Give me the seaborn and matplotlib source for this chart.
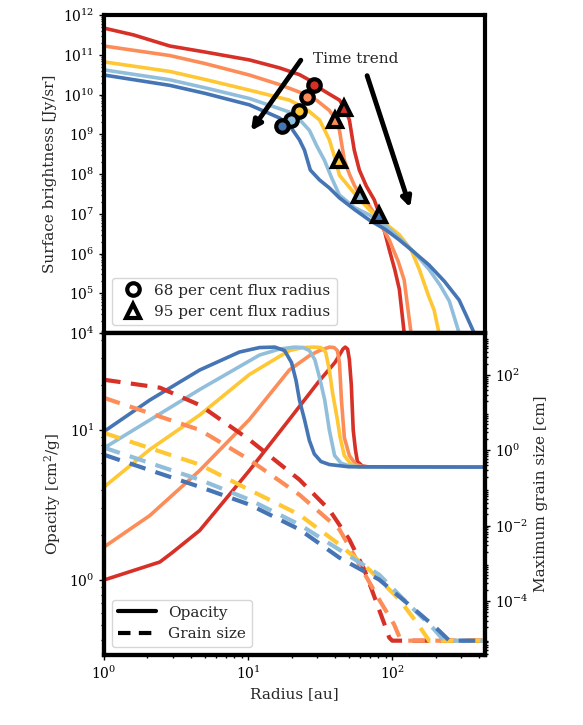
import numpy as np
import matplotlib
matplotlib.use("Agg")
import matplotlib.pyplot as plt
import seaborn as sns
from matplotlib.lines import Line2D

sns.set_style("ticks")
plt.rcParams["font.family"] = ["DejaVu Serif"]
plt.rcParams["mathtext.fontset"] = "dejavuserif"

COLORS = ["#d73027", "#fc8d59", "#fec733", "#91bfdb", "#4575b4"]

# ---- top panel: surface brightness (log10 Jy/sr) vs radius [au]
sb_r = [
    [1, 1.6, 2.86, 5.0, 10.2, 16.5, 22.7, 27.0, 31.3, 37.0, 43.0, 47.0, 50.4, 54.5, 59.1, 66.0, 75.0, 85.0, 95.3, 104, 112, 121],
    [1, 2.86, 5.0, 10.2, 16.5, 22.7, 30.0, 36.6, 40.0, 43.0, 46.5, 50.4, 54.5, 60.0, 69.4, 80.0, 95.3, 110, 121, 135],
    [1, 2.86, 5.0, 10.2, 19.3, 25.0, 31.3, 34.0, 36.6, 40.0, 43.0, 55.0, 69.4, 90.0, 112, 135, 154, 180, 195, 211],
    [1, 2.86, 5.0, 10.2, 19.3, 23.0, 26.6, 30.0, 33.8, 38.0, 43.0, 55.0, 69.4, 90.0, 112, 140, 180, 215, 249, 291],
    [1, 2.86, 5.0, 10.2, 16.5, 19.3, 22.7, 24.6, 27.0, 31.3, 36.6, 43.0, 55.0, 69.4, 90.0, 112, 140, 180, 230, 291, 330, 370],
]
sb_log = [
    [11.67, 11.5, 11.22, 11.07, 10.87, 10.67, 10.5, 10.35, 10.16, 10.0, 9.86, 9.65, 9.36, 8.6, 8.1, 7.7, 7.35, 6.8, 6.1, 5.6, 5.1, 4.0],
    [11.22, 10.98, 10.78, 10.49, 10.25, 10.06, 9.85, 9.6, 9.4, 9.1, 8.35, 8.0, 7.72, 7.45, 7.2, 6.85, 6.34, 5.8, 5.33, 4.0],
    [10.82, 10.58, 10.38, 10.11, 9.86, 9.65, 9.36, 9.1, 8.86, 8.4, 7.97, 7.5, 7.1, 6.75, 6.47, 6.1, 5.6, 4.9, 4.58, 4.0],
    [10.62, 10.37, 10.17, 9.9, 9.56, 9.35, 9.1, 8.7, 8.35, 7.9, 7.47, 7.15, 6.97, 6.7, 6.39, 6.05, 5.6, 5.2, 4.8, 4.0],
    [10.49, 10.23, 10.03, 9.74, 9.41, 9.23, 8.86, 8.6, 8.1, 7.85, 7.65, 7.4, 7.1, 6.84, 6.6, 6.34, 6.05, 5.71, 5.3, 4.83, 4.4, 4.0],
]
r68 = [28.8, 25.8, 22.7, 19.7, 17.1]
sb68_log = [10.24, 9.94, 9.58, 9.36, 9.21]
r95 = [46.5, 40.3, 43.0, 60.0, 81.3]
sb95_log = [9.66, 9.36, 8.35, 7.47, 6.97]

# ---- bottom panel: opacity [cm^2/g] and max grain size [cm]
op_r = [
    [1, 2.44, 2.95, 4.61, 10.2, 19.3, 31.3, 40.0, 43.0, 45.5, 47.2, 49.0, 50.4, 52.0, 53.6, 55.5, 57.3, 62.0, 69.4, 440],
    [1, 2.08, 4.61, 10.2, 19.3, 27.0, 31.3, 36.6, 39.5, 41.6, 43.0, 44.4, 46.5, 50.4, 56.0, 64.1, 440],
    [1, 2.08, 4.61, 10.2, 19.3, 24.0, 28.8, 32.0, 34.5, 36.6, 38.5, 41.6, 43.5, 46.5, 52.0, 59.1, 440],
    [1, 4.61, 12.0, 16.5, 21.0, 24.0, 26.6, 29.0, 31.3, 34.0, 36.6, 39.8, 44.0, 50.4, 69.4, 440],
    [1, 2.08, 4.61, 8.7, 12.0, 15.3, 17.9, 20.0, 21.5, 22.7, 24.6, 26.6, 28.8, 32.0, 36.6, 50.0, 440],
]
op_log = [
    [0.0, 0.12, 0.18, 0.33, 0.73, 1.07, 1.33, 1.45, 1.5, 1.54, 1.553, 1.54, 1.47, 1.3, 1.0, 0.87, 0.79, 0.76, 0.753, 0.753],
    [0.22, 0.43, 0.73, 1.07, 1.4, 1.5, 1.53, 1.553, 1.55, 1.53, 1.45, 1.2, 0.95, 0.83, 0.77, 0.753, 0.753],
    [0.62, 0.87, 1.1, 1.37, 1.53, 1.55, 1.553, 1.55, 1.52, 1.4, 1.25, 1.07, 0.95, 0.83, 0.77, 0.753, 0.753],
    [0.88, 1.27, 1.5, 1.54, 1.553, 1.55, 1.53, 1.47, 1.35, 1.2, 1.0, 0.83, 0.78, 0.76, 0.753, 0.753],
    [0.99, 1.2, 1.4, 1.52, 1.55, 1.553, 1.53, 1.45, 1.33, 1.2, 1.07, 0.93, 0.84, 0.79, 0.77, 0.755, 0.753],
]
gs_r = [
    [1, 2.44, 4.61, 10.2, 22.7, 36.6, 50.4, 64.1, 81.1, 90.0, 95.3, 100, 112, 440],
    [1, 4.61, 10.2, 22.7, 43.0, 59.1, 81.1, 103, 112, 121, 440],
    [1, 4.61, 10.2, 22.7, 43.0, 69.4, 112, 150, 180, 440],
    [1, 4.61, 10.2, 22.7, 43.0, 81.1, 131, 190, 229, 440],
    [1, 4.61, 10.2, 22.7, 43.0, 81.1, 131, 200, 249, 440],
]
gs_log = [
    [1.87, 1.66, 1.2, 0.28, -0.78, -1.58, -2.37, -3.17, -4.23, -4.7, -4.97, -5.05, -5.05, -5.05],
    [1.39, 0.54, -0.25, -1.18, -2.1, -3.03, -3.96, -4.62, -4.95, -5.05, -5.05],
    [0.46, -0.38, -1.05, -1.71, -2.5, -3.17, -3.96, -4.6, -5.05, -5.05],
    [0.07, -0.78, -1.31, -1.97, -2.64, -3.3, -4.1, -4.7, -5.05, -5.05],
    [-0.12, -0.97, -1.44, -2.1, -2.85, -3.43, -4.1, -4.7, -5.05, -5.05],
]

fig = plt.figure(figsize=(5.83, 7.25), dpi=100)
ax1 = fig.add_axes([104 / 583, (725 - 333) / 725, 381 / 583, 318 / 725])
ax2 = fig.add_axes([104 / 583, (725 - 655) / 725, 381 / 583, 322 / 725])
ax3 = ax2.twinx()

LW = 2.6
for i, c in enumerate(COLORS):
    sns.lineplot(x=sb_r[i], y=10 ** np.array(sb_log[i]), ax=ax1, color=c, lw=LW, sort=False, estimator=None)
for i, c in enumerate(COLORS):
    ax1.plot(r68[i], 10 ** sb68_log[i], "o", ms=9, mfc=c, mec="k", mew=3, zorder=5)
    ax1.plot(r95[i], 10 ** sb95_log[i], "^", ms=10, mfc=c, mec="k", mew=3, zorder=5)

ax1.set_xscale("log")
ax1.set_yscale("log")
ax1.set_xlim(1, 440)
ax1.set_ylim(1e4, 1e12)
ax1.set_ylabel("Surface brightness [Jy/sr]", fontsize=11)
ax1.tick_params(labelbottom=False)
ax1.set_yticks([10.0 ** k for k in range(4, 13)])

ax1.annotate("", xy=(10.2, 10 ** 9.03), xytext=(23.8, 10 ** 10.92),
             arrowprops=dict(arrowstyle="-|>", color="k", lw=3.5, mutation_scale=14))
ax1.annotate("", xy=(135, 10 ** 7.09), xytext=(66, 10 ** 10.54),
             arrowprops=dict(arrowstyle="-|>", color="k", lw=3.5, mutation_scale=14))
ax1.text(28, 10 ** 10.9, "Time trend", fontsize=11, ha="left", va="center")

h1 = [Line2D([], [], ls="", marker="o", ms=9, mfc="w", mec="k", mew=3),
      Line2D([], [], ls="", marker="^", ms=10, mfc="w", mec="k", mew=3)]
ax1.legend(h1, ["68 per cent flux radius", "95 per cent flux radius"], loc="lower left",
           fontsize=11, handletextpad=0.4)

for i, c in enumerate(COLORS):
    sns.lineplot(x=op_r[i], y=10 ** np.array(op_log[i]), ax=ax2, color=c, lw=LW, sort=False, estimator=None)
    sns.lineplot(x=gs_r[i], y=10 ** np.array(gs_log[i]), ax=ax3, color=c, lw=LW + 0.4, ls=(0, (4, 2.5)),
                 sort=False, estimator=None)

ax2.set_xscale("log")
ax2.set_yscale("log")
ax3.set_yscale("log")
ax2.set_xlim(1, 440)
ax2.set_ylim(10 ** -0.5, 10 ** 1.647)
ax3.set_ylim(10 ** -5.43, 10 ** 3.11)
ax3.set_yticks([1e2, 1e0, 1e-2, 1e-4])
ax2.set_xlabel("Radius [au]", fontsize=11)
ax2.set_ylabel("Opacity [cm$^2$/g]", fontsize=11)
ax3.set_ylabel("Maximum grain size [cm]", fontsize=11)

h2 = [Line2D([], [], color="k", lw=3), Line2D([], [], color="k", lw=3, ls=(0, (3, 2)))]
ax2.legend(h2, ["Opacity", "Grain size"], loc="lower left", fontsize=11, handlelength=2.5)

for ax in (ax1, ax2, ax3):
    for s in ax.spines.values():
        s.set_linewidth(3)
        s.set_color("k")
        s.set_visible(True)
    ax.tick_params(labelsize=10, width=1, which="both", colors="k")

fig.savefig("out.png", dpi=100)
